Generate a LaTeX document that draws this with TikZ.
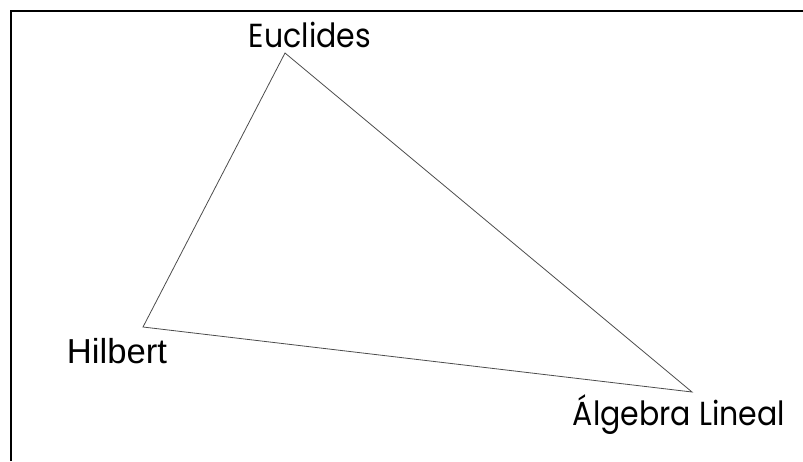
\documentclass[tikz,border=0pt]{standalone}
\usepackage{fontspec}
\setmainfont{Poppins}[FakeStretch=0.9]
\newfontfamily\arialfont{Liberation Sans}
\usetikzlibrary{positioning}

\begin{document}
\begin{tikzpicture}[
      x=0.75pt, y=-0.75pt,
      lbl/.style={inner sep=0pt, anchor=base, font=\fontsize{25}{25}\selectfont},
      edge/.style={line width=0.6pt, draw=black!70}
    ]
    \useasboundingbox (0,0) rectangle (803,461);
    \draw[line width=1.6pt] (11,461) -- (11,11) -- (803,11);
    \coordinate (e) at (285,53);
    \coordinate (h) at (143,327);
    \coordinate (a) at (692,392);
    \node[lbl] (le) at (310,47) {Euclides};
    \node[lbl, font=\arialfont\fontsize{26}{26}\selectfont] (lh) at (117,363) {Hilbert};
    \node[lbl] (la) at (679,425) {Álgebra Lineal};
    \draw[edge] (e) -- (h) -- (a) -- cycle;
  \end{tikzpicture}
\end{document}
